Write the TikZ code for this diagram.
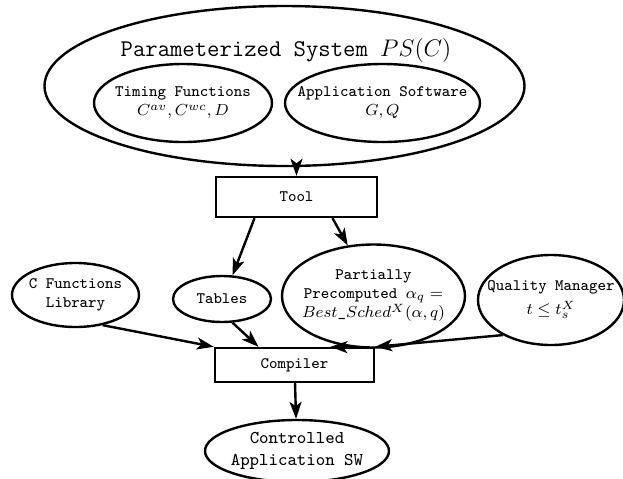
\documentclass[tikz,border=0pt]{standalone}
\usepackage{amsmath,amssymb}
\usepackage{tikz}
\usetikzlibrary{arrows.meta,positioning,shapes.geometric}

\begin{document}
\begin{tikzpicture}[
  x=0.5pt, y=-0.5pt, font=\footnotesize\ttfamily, line width=1.2pt,
  >={Stealth[length=8.5pt, width=6pt, inset=2.2pt]},
  oval/.style={draw, ellipse, inner sep=0pt},
  intext/.style={align=center},
  box/.style={draw, rectangle, inner sep=0pt, align=center}]
\useasboundingbox (0,0) rectangle (623,478);
% parameterized system with its two parts
\node[oval, minimum width=240pt, minimum height=80pt] (sys) at (284.5,86) {};
\node[font=\large\ttfamily] (systitle) at (286,50) {Parameterized System $PS(C)$};
\node[oval, minimum width=89pt, minimum height=39pt,
  label={[intext]center:Timing Functions\\$C^{av}, C^{wc}, D$}] (timing) at (183,103) {};
\node[oval, minimum width=97.5pt, minimum height=39pt,
  label={[intext]center:Application Software\\$G, Q$}] (appsw) at (382.5,103) {};
% tool and its outputs
\node[box, minimum width=80.5pt, minimum height=20pt] (tool) at (296.5,197) {Tool};
\node[oval, minimum width=49pt, minimum height=23pt,
  label={[intext]center:Tables}] (tables) at (222,299) {};
\node[oval, minimum width=91.5pt, minimum height=51.5pt,
  label={[intext]center:Partially\\Precomputed $\alpha_q =$\\$Best\_Sched^X(\alpha, q)$}] (precomp) at (373.5,296) {};
\node[oval, minimum width=63.5pt, minimum height=32pt,
  label={[intext]center:C Functions\\Library}] (cfun) at (75.5,295) {};
\node[oval, minimum width=73pt, minimum height=45pt,
  label={[intext]center:Quality Manager\\[2.5pt]$t \le t_s^X$}] (qman) at (551,300) {};
% compiler and result
\node[box, minimum width=79.5pt, minimum height=17pt] (comp) at (294.5,365) {Compiler};
\node[oval, minimum width=92pt, minimum height=31pt,
  label={[intext, font=\small\ttfamily]center:Controlled\\Application SW}] (ctrlsw) at (297,451) {};
\draw[->] (sys.south -| tool.north) -- (tool.north);
\draw[->] ([xshift=-21pt]tool.south) -- (tables.66);
\draw[->] ([xshift=18pt]tool.south) -- (precomp.117);
\draw[->] (cfun.-48) -- (comp.north west);
\draw[->] (tables.-66) -- ([xshift=-18pt]comp.north);
\draw[->] (precomp.-113) -- ([xshift=18pt]comp.north);
\draw[->] (qman.-144) -- (comp.north east);
\draw[->] (comp) -- (ctrlsw);
\end{tikzpicture}
\end{document}
